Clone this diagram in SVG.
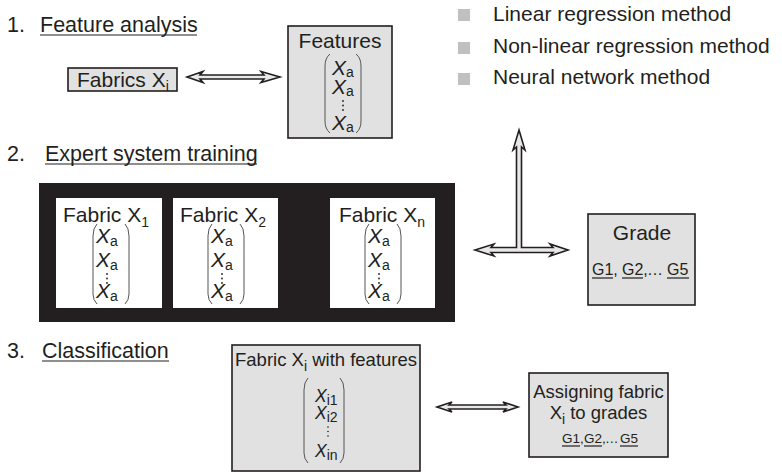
<svg xmlns="http://www.w3.org/2000/svg" width="782" height="472" viewBox="0 0 782 472">
<style>
text{font-family:"Liberation Sans",Arial,sans-serif;fill:#231f20}
.h{font-size:21.5px}
.t{font-size:21px}
.s{font-size:18.5px}
.box{fill:#e1e1e1;stroke:#231f20;stroke-width:1.6}
.wbox{fill:#fff}
.x{font-style:italic;font-size:21px}
.xs{font-style:italic;font-size:17.5px}
.sub{font-size:14px;font-style:normal}
.dot{fill:#231f20}
.par{fill:none;stroke:#555;stroke-width:1}
.ul{stroke:#231f20;stroke-width:1.2}
.arr{fill:#e8e8e8;stroke:#231f20;stroke-width:1.6;stroke-linejoin:miter}
.bul{fill:#c0c0c0}
</style>

<g id="headings">
<text class="h" x="7" y="32">1.</text>
<text class="h" x="40" y="32">Feature analysis</text>
<line class="ul" x1="40" y1="35" x2="197" y2="35"/>
<text class="h" x="7" y="161">2.</text>
<text class="h" x="45" y="161">Expert system training</text>
<line class="ul" x1="45" y1="164" x2="257" y2="164"/>
<text class="h" x="7" y="358">3.</text>
<text class="h" x="42" y="358">Classification</text>
<line class="ul" x1="42" y1="361" x2="169" y2="361"/>
</g>

<g id="methods">
<rect class="bul" x="458" y="9" width="12" height="12"/>
<text class="t" x="493" y="21">Linear regression method</text>
<rect class="bul" x="458" y="42" width="12" height="12"/>
<text class="t" x="493" y="53">Non-linear regression method</text>
<rect class="bul" x="458" y="73" width="12" height="12"/>
<text class="t" x="493" y="84">Neural network method</text>
</g>

<g id="fabrics-xi">
<rect class="box" x="68" y="68" width="109" height="23"/>
<text class="t" x="77" y="87">Fabrics X<tspan class="sub" dy="4">i</tspan></text>
</g>

<g id="features">
<rect class="box" x="288" y="26" width="104" height="112"/>
<text class="t" x="340" y="48" text-anchor="middle">Features</text>
<path class="par" d="M330 54 Q325 58 325 66 L325 121 Q325 129 330 133"/>
<path class="par" d="M356 54 Q361 58 361 66 L361 121 Q361 129 356 133"/>
<text class="x" x="332" y="75">X<tspan class="sub" dy="2">a</tspan></text>
<text class="x" x="332" y="94">X<tspan class="sub" dy="2">a</tspan></text>
<circle class="dot" cx="343" cy="101" r="0.9"/>
<circle class="dot" cx="343" cy="105.5" r="0.9"/>
<circle class="dot" cx="343" cy="110" r="0.9"/>
<text class="x" x="332" y="130">X<tspan class="sub" dy="2">a</tspan></text>
</g>

<g id="training-set">
<rect x="39" y="183" width="416" height="139" fill="#231f20"/>
</g>

<g id="fabric-x1">
<rect class="wbox" x="56" y="198" width="106" height="110"/>
<text class="t" x="63" y="222">Fabric X<tspan class="sub" dy="5">1</tspan></text>
<path class="par" d="M97 224 Q93 228 93 236 L93 294 Q93 300 97 304"/>
<path class="par" d="M125 224 Q129 228 129 236 L129 294 Q129 300 125 304"/>
<text class="x" x="96" y="243">X<tspan class="sub" dy="3">a</tspan></text>
<text class="x" x="96" y="267">X<tspan class="sub" dy="3">a</tspan></text>
<circle class="dot" cx="107" cy="274" r="0.9"/>
<circle class="dot" cx="107" cy="278.5" r="0.9"/>
<circle class="dot" cx="107" cy="283" r="0.9"/>
<text class="x" x="96" y="298">X<tspan class="sub" dy="3">a</tspan></text>
</g>

<g id="fabric-x2">
<rect class="wbox" x="173" y="198" width="105" height="110"/>
<text class="t" x="180" y="222">Fabric X<tspan class="sub" dy="5">2</tspan></text>
<path class="par" d="M212 224 Q208 228 208 236 L208 294 Q208 300 212 304"/>
<path class="par" d="M240 224 Q244 228 244 236 L244 294 Q244 300 240 304"/>
<text class="x" x="211" y="243">X<tspan class="sub" dy="3">a</tspan></text>
<text class="x" x="211" y="267">X<tspan class="sub" dy="3">a</tspan></text>
<circle class="dot" cx="222" cy="274" r="0.9"/>
<circle class="dot" cx="222" cy="278.5" r="0.9"/>
<circle class="dot" cx="222" cy="283" r="0.9"/>
<text class="x" x="211" y="298">X<tspan class="sub" dy="3">a</tspan></text>
</g>

<g id="fabric-xn">
<rect class="wbox" x="330" y="198" width="105" height="110"/>
<text class="t" x="339" y="222">Fabric X<tspan class="sub" dy="5">n</tspan></text>
<path class="par" d="M369 224 Q365 228 365 236 L365 294 Q365 300 369 304"/>
<path class="par" d="M397 224 Q401 228 401 236 L401 294 Q401 300 397 304"/>
<text class="x" x="368" y="243">X<tspan class="sub" dy="3">a</tspan></text>
<text class="x" x="368" y="267">X<tspan class="sub" dy="3">a</tspan></text>
<circle class="dot" cx="379" cy="274" r="0.9"/>
<circle class="dot" cx="379" cy="278.5" r="0.9"/>
<circle class="dot" cx="379" cy="283" r="0.9"/>
<text class="x" x="368" y="298">X<tspan class="sub" dy="3">a</tspan></text>
</g>

<g id="grade">
<rect class="box" x="588" y="214" width="107" height="91"/>
<text class="t" x="642" y="240" text-anchor="middle">Grade</text>
<text font-size="16" y="275"><tspan x="592">G1,</tspan><tspan x="622">G2,</tspan><tspan x="647">…</tspan><tspan x="667">G5</tspan></text>
<line class="ul" x1="592" y1="278" x2="613" y2="278"/>
<line class="ul" x1="622" y1="278" x2="643" y2="278"/>
<line class="ul" x1="667" y1="278" x2="689" y2="278"/>
</g>

<g id="fabric-xi-features">
<rect class="box" x="232" y="345" width="188" height="126"/>
<text class="s" x="235" y="366">Fabric X<tspan class="sub" font-size="13" dy="5">i</tspan><tspan dy="-5"> with features</tspan></text>
<path class="par" d="M308 378 Q304 382 304 390 L304 453 Q304 459 308 463"/>
<path class="par" d="M340 378 Q344 382 344 390 L344 453 Q344 459 340 463"/>
<text class="xs" x="315" y="402">X<tspan class="sub" dy="3">i1</tspan></text>
<text class="xs" x="315" y="419">X<tspan class="sub" dy="3">i2</tspan></text>
<circle class="dot" cx="328" cy="427" r="0.8"/>
<circle class="dot" cx="328" cy="431.5" r="0.8"/>
<circle class="dot" cx="328" cy="436" r="0.8"/>
<text class="xs" x="315" y="457">X<tspan class="sub" dy="3">in</tspan></text>
</g>

<g id="assigning">
<rect class="box" x="529" y="373" width="139" height="84"/>
<text class="s" x="598.5" y="398" text-anchor="middle">Assigning fabric</text>
<text class="s" x="598.5" y="419" text-anchor="middle">X<tspan class="sub" font-size="13" dy="5">i</tspan><tspan dy="-5"> to grades</tspan></text>
<text font-size="13.5" y="443"><tspan x="562">G1,</tspan><tspan x="584">G2,</tspan><tspan x="605">…</tspan><tspan x="620">G5</tspan></text>
<line class="ul" x1="562" y1="446" x2="580" y2="446"/>
<line class="ul" x1="584" y1="446" x2="602" y2="446"/>
<line class="ul" x1="620" y1="446" x2="638" y2="446"/>
</g>

<g id="connectors">
<polygon class="arr" points="187,77 203,71.5 200,75 264,75 261,71.5 280,77 261,82.5 264,79 200,79 203,82.5"/>
<polygon class="arr" points="437,407 452,402 449,405 506,405 503,402 518,407 503,412 506,409 449,409 452,412"/>
<polygon class="arr" points="519,130 525,150 521.5,147 521.5,247.5 553,247.5 550,244 568,250 550,256 553,252.5 491,252.5 494,256 475,250 494,244 491,247.5 516.5,247.5 516.5,147 513,150"/>
</g>
</svg>
